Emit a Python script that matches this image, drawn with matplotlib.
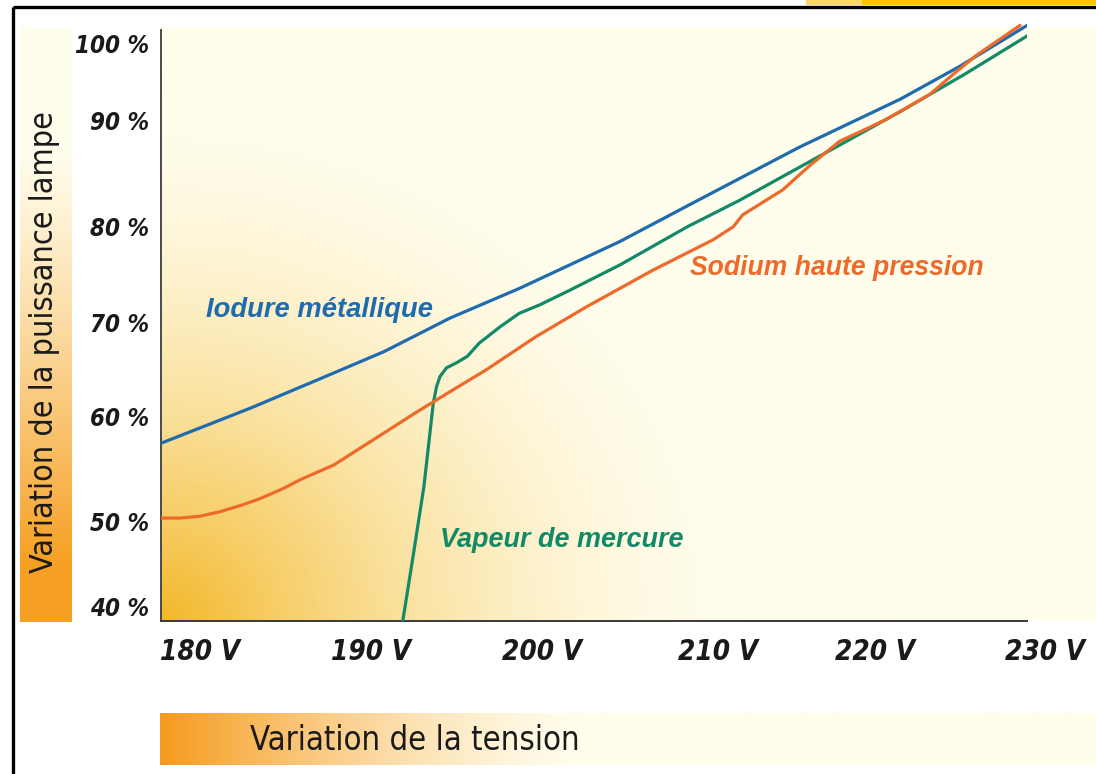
import numpy as np
import matplotlib
matplotlib.use("Agg")
import matplotlib.pyplot as plt
from matplotlib import font_manager as fm
from matplotlib.patches import Rectangle
from matplotlib.transforms import ScaledTranslation

# ---- data -------------------------------------------------------------
tension_ticks = [180, 190, 200, 210, 220, 230]
tension_labels = ["180 V", "190 V", "200 V", "210 V", "220 V", "230 V"]
puissance_ticks = [40, 50, 60, 70, 80, 90, 100]
puissance_labels = ["40 %", "50 %", "60 %", "70 %", "80 %", "90 %", "100 %"]

# Iodure métallique
iodure_v = [180.0, 185.2, 189.0, 192.9, 196.7, 200.7, 206.5, 211.1, 216.9, 222.7, 226.1, 230.1]
iodure_p = [57.4, 61.1, 64.0, 67.0, 70.5, 73.6, 78.5, 82.9, 88.4, 93.4, 96.8, 101.2]

# Vapeur de mercure
mercure_v = [193.95, 194.6, 195.2, 195.74, 195.93, 196.13, 196.5, 197.1, 197.7, 198.4,
             199.6, 200.7, 201.9, 203.6, 206.5, 210.4, 213.4, 216.9, 222.7, 226.5, 230.1]
mercure_p = [38.5, 45.9, 52.9, 61.6, 63.35, 64.4, 65.3, 65.85, 66.5, 67.9,
             69.6, 71.0, 71.9, 73.4, 76.05, 80.05, 82.8, 86.3, 92.1, 96.1, 100.1]

# Sodium haute pression
sodium_v = [180.0, 181.15, 182.3, 183.4, 184.6, 185.7, 187.1, 188.05, 190.0, 192.9, 194.8,
            196.7, 198.8, 201.7, 204.6, 208.4, 211.9, 213.05, 213.6, 215.9, 217.5, 219.2,
            220.4, 221.9, 224.4, 225.75, 227.1, 229.6]
sodium_p = [49.6, 49.6, 49.8, 50.25, 50.9, 51.6, 52.7, 53.6, 55.15, 58.5, 60.7,
            62.8, 65.1, 68.6, 71.7, 75.5, 78.7, 80.05, 81.3, 83.9, 86.5, 89.0,
            90.0, 91.3, 93.9, 96.0, 98.0, 101.1]

BLUE = "#1f6bb0"
GREEN = "#128a68"
ORANGE = "#ee6a2a"
INK = "#1a1a1a"

# ---- fonts ------------------------------------------------------------
_fonts = fm.fontManager.ttflist
_names = {f.name for f in _fonts}
if "Liberation Sans Narrow" in _names:
    NARROW = dict(family="Liberation Sans Narrow")
elif any(f.name == "DejaVu Sans" and f.stretch == "condensed" for f in _fonts):
    NARROW = dict(family="DejaVu Sans", stretch="condensed")
else:
    NARROW = dict(family="Liberation Sans")
SANS = dict(family="Liberation Sans" if "Liberation Sans" in _names else "DejaVu Sans")

W_PX, H_PX = 1096, 774
fig = plt.figure(figsize=(W_PX / 100, H_PX / 100), dpi=100)
fig.patch.set_facecolor("white")
renderer = fig.canvas.get_renderer()


def fitted_size(s, target_px, **kw):
    t = fig.text(0, 0, s, fontsize=20, **kw)
    w = t.get_window_extent(renderer).width
    t.remove()
    return 20 * target_px / w


# ---- decorative background (pixel coordinates) -------------------------
bg = fig.add_axes([0, 0, 1, 1], zorder=0)
bg.set_xlim(0, W_PX)
bg.set_ylim(H_PX, 0)
bg.set_axis_off()

cream = np.array([255, 253, 236]) / 255


def mix(c1, w):
    c1 = np.array(c1) / 255
    return cream * (1 - w[..., None]) + c1 * w[..., None]


# plot area: warm glow from the lower-left corner
xs = np.linspace(160, 1096, 470)
ys = np.linspace(27, 621, 300)
X, Y = np.meshgrid(xs, ys)
d = np.sqrt(((X - 160) / 580) ** 2 + ((621 - Y) / 520) ** 2)
w = np.clip(1 - d, 0, 1) ** 1.7
bg.imshow(mix((243, 183, 40), w), extent=(160, 1096, 621, 27),
          aspect="auto", interpolation="bilinear", zorder=0)

# vertical band behind the y title
yb = np.linspace(28, 622, 300)
t = (yb - 28) / (622 - 28)
wb = np.clip((t - 0.2) / 0.7, 0, 1) ** 1.2
band = np.repeat(mix((246, 160, 35), wb)[:, None, :], 4, axis=1)
bg.imshow(band, extent=(20, 72, 622, 28), aspect="auto",
          interpolation="bilinear", zorder=0)

# horizontal band behind the x title
xb = np.linspace(160, 1096, 470)
wh = np.clip(1 - (xb - 160) / 420, 0, 1) ** 1.4
hband = np.repeat(mix((245, 155, 30), wh)[None, :, :], 4, axis=0)
bg.imshow(hband, extent=(160, 1096, 765, 713), aspect="auto",
          interpolation="bilinear", zorder=0)

# page frame and tab at top right
bg.add_patch(Rectangle((806, 0), 56, 5, color="#fdd66a", lw=0, zorder=1))
bg.add_patch(Rectangle((862, 0), 234, 5, color="#fec300", lw=0, zorder=1))
bg.plot([13, 13], [7, 774], color="black", lw=2.4, solid_capstyle="butt", zorder=2)
bg.plot([13, 1096], [7, 7], color="black", lw=2.4, solid_capstyle="butt", zorder=2)

# ---- chart axes --------------------------------------------------------
Y_BOTTOM, Y_TOP = 38.84, 101.6
ax = fig.add_axes([160.5 / W_PX, (H_PX - 621) / H_PX,
                   866.5 / W_PX, (621 - 20.6) / H_PX], zorder=1)
ax.set_facecolor("none")
ax.set_xlim(180, 230)
ax.set_ylim(Y_BOTTOM, Y_TOP)

for side in ("top", "right"):
    ax.spines[side].set_visible(False)
ax.spines["left"].set_bounds(Y_BOTTOM, 100.6)
ax.spines["left"].set_color("#4a4a4a")
ax.spines["left"].set_linewidth(1.4)
ax.spines["bottom"].set_color("#3a3a3a")
ax.spines["bottom"].set_linewidth(1.4)

lw = 2.3
ax.plot(iodure_v, iodure_p, color=BLUE, lw=lw, solid_capstyle="round",
        solid_joinstyle="round", zorder=3)
ax.plot(sodium_v, sodium_p, color=ORANGE, lw=lw, solid_capstyle="round",
        solid_joinstyle="round", zorder=4)
ax.plot(mercure_v, mercure_p, color=GREEN, lw=lw, solid_capstyle="round",
        solid_joinstyle="round", zorder=3)

# tick labels
ytick_size = fitted_size("100 %", 74, weight="bold", style="italic", **NARROW)
xtick_size = fitted_size("180 V", 80, weight="bold", style="italic", **NARROW)

ax.set_yticks(puissance_ticks)
ax.set_yticklabels(puissance_labels, fontsize=ytick_size, fontweight="bold",
                   fontstyle="italic", color=INK, **NARROW)
ax.set_xticks(tension_ticks)
ax.set_xticklabels(tension_labels, fontsize=xtick_size, fontweight="bold",
                   fontstyle="italic", color=INK, **NARROW)
ax.tick_params(axis="y", length=0, pad=8)
ax.tick_params(axis="x", length=0, pad=12)

# hand-set label placement (pixel nudges relative to each tick)
x_nudge_px = [40, 37, 35, 38, 21, 18]
y_nudge_px = [3, -7, 2, 0, 1, 11, -8]
for lab, dx in zip(ax.get_xticklabels(), x_nudge_px):
    lab.set_transform(lab.get_transform() + ScaledTranslation(dx / 100, 0, fig.dpi_scale_trans))
for lab, dy in zip(ax.get_yticklabels(), y_nudge_px):
    lab.set_transform(lab.get_transform() + ScaledTranslation(0, dy / 100, fig.dpi_scale_trans))

# curve names
for text, v, p, col, width in [
    ("Iodure métallique", 182.6, 71.35, BLUE, 227),
    ("Sodium haute pression", 210.55, 75.7, ORANGE, 293),
    ("Vapeur de mercure", 196.13, 47.3, GREEN, 243),
]:
    size = fitted_size(text, width, weight="bold", style="italic", **SANS)
    ax.text(v, p, text, color=col, fontsize=size, fontweight="bold",
            fontstyle="italic", ha="left", va="center", zorder=5, **SANS)

# axis titles
ylab = "Variation de la puissance lampe"
bg.text(45, 342, ylab, rotation=90, ha="center", va="center", color=INK,
        fontsize=fitted_size(ylab, 461, **NARROW), zorder=3, **NARROW)
xlab = "Variation de la tension"
bg.text(250, 740, xlab, ha="left", va="center", color=INK,
        fontsize=fitted_size(xlab, 330, **NARROW), zorder=3, **NARROW)

fig.savefig("out.png", dpi=100)
